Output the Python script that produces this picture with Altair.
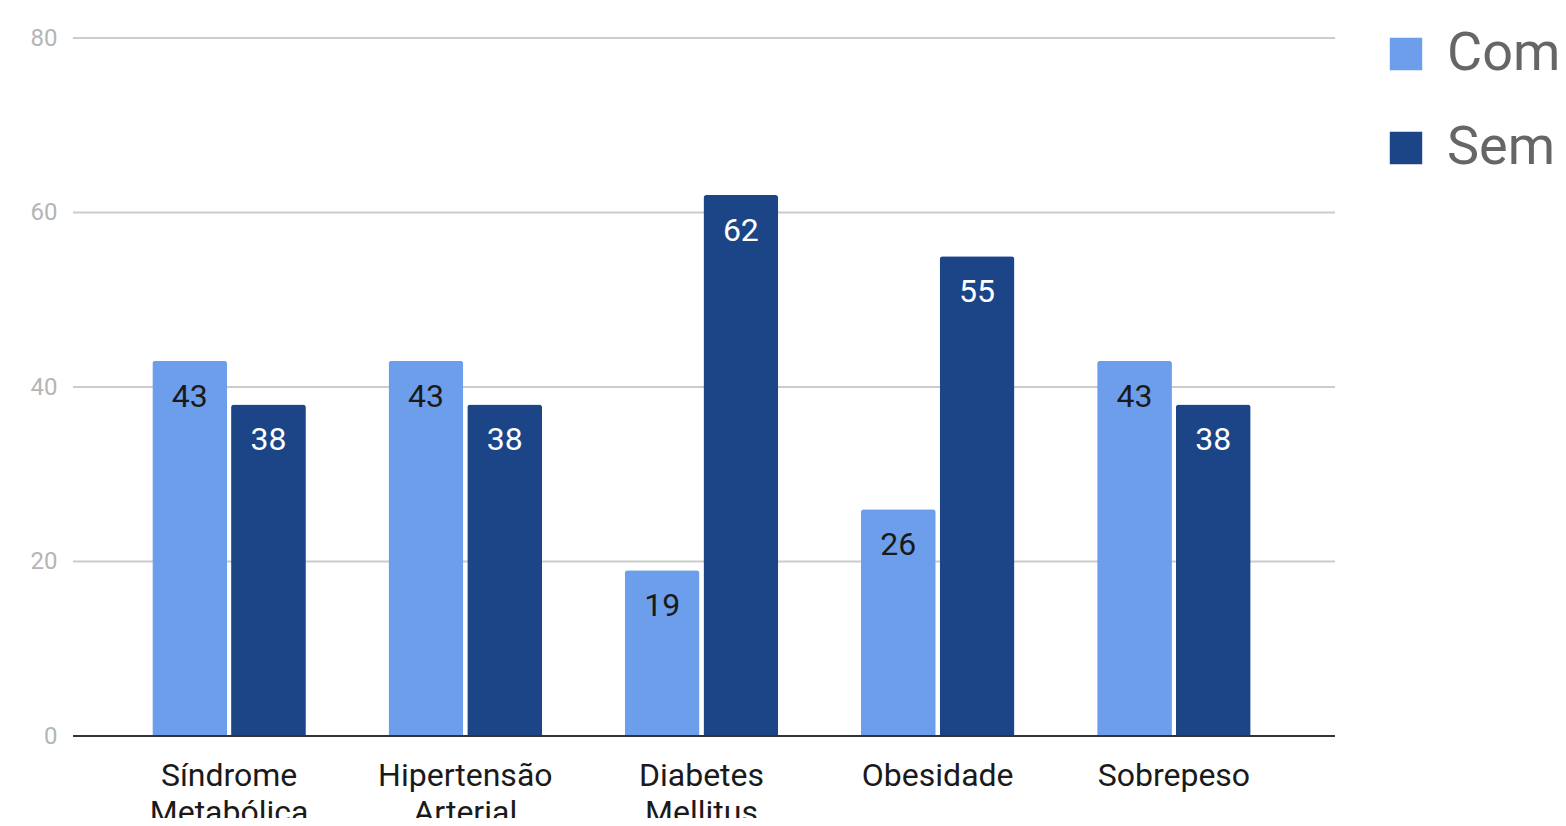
import altair as alt
import pandas as pd

categories = ["Síndrome Metabólica", "Hipertensão Arterial", "Diabetes Mellitus", "Obesidade", "Sobrepeso"]
series = ["Com", "Sem"]
com_values = [43, 43, 19, 26, 43]
sem_values = [38, 38, 62, 55, 38]
colors = ["#6d9eeb", "#1c4587"]
grid_values = [20, 40, 60, 80]
y_ticks = [0, 20, 40, 60, 80]

rows = []
for c, v in zip(categories, com_values):
    rows.append({"cat": c, "serie": "Com", "valor": v})
for c, v in zip(categories, sem_values):
    rows.append({"cat": c, "serie": "Sem", "valor": v})
df = pd.DataFrame(rows)

W, H = 1262, 698

yscale = alt.Scale(domain=[0, 80], nice=False)
yaxis = alt.Axis(values=y_ticks, labelFont="Roboto", labelFontSize=24,
                 labelColor="#b5b5b5", labelPadding=16, ticks=False, domain=False, grid=False)

grid = alt.Chart(pd.DataFrame({"valor": grid_values})).mark_rule(color="#cccccc", strokeWidth=2).encode(
    y=alt.Y("valor:Q", scale=yscale, title=None, axis=yaxis)
)

x = alt.X("cat:N", sort=categories, title=None,
          scale=alt.Scale(range=[38, 1219], paddingInner=0.35, paddingOuter=0.175),
          axis=alt.Axis(labelAngle=0, labelFont="Roboto", labelFontSize=32, labelColor="#1a1a1a",
                        labelExpr="split(datum.label, ' ')", labelLineHeight=37,
                        labelPadding=24, ticks=False, domain=False, grid=False, labelBaseline="top"))
xo = alt.XOffset("serie:N", sort=series, scale=alt.Scale(paddingInner=0.05, paddingOuter=0))
y = alt.Y("valor:Q", title=None, scale=yscale, axis=yaxis)

bars = alt.Chart(df).mark_bar(cornerRadiusTopLeft=3, cornerRadiusTopRight=3).encode(
    x=x, xOffset=xo, y=y,
    color=alt.Color("serie:N", sort=series, title=None,
                    scale=alt.Scale(domain=series, range=colors),
                    legend=alt.Legend(orient="none", legendX=1306, legendY=-11, symbolType="square",
                                      symbolSize=1050, symbolStrokeWidth=0, labelFont="Roboto",
                                      labelFontSize=54, labelColor="#666666", rowPadding=40,
                                      symbolOffset=0, labelOffset=14, labelLimit=400))
)

labels = alt.Chart(df).mark_text(font="Roboto", fontSize=32, baseline="middle", dy=36).encode(
    x=alt.X("cat:N", sort=categories),
    xOffset=alt.XOffset("serie:N", sort=series),
    y=alt.Y("valor:Q", scale=yscale, axis=yaxis),
    text=alt.Text("valor:Q"),
    color=alt.Color("serie:N", scale=alt.Scale(domain=series, range=["#1a1a1a", "#ffffff"]), legend=None)
)

base_rule = alt.Chart(pd.DataFrame({"valor": [0]})).mark_rule(color="#333333", strokeWidth=2).encode(
    y=alt.Y("valor:Q", scale=yscale, axis=yaxis))

chart = alt.layer(grid, bars, labels, base_rule).resolve_scale(color="independent").properties(
    width=W, height=H,
    autosize=alt.AutoSizeParams(type="none"),
    padding={"left": 65, "top": 30, "right": 223, "bottom": 82},
).configure_view(stroke=None)

chart.save("out.html", embed_options={"renderer": "svg", "actions": False})
